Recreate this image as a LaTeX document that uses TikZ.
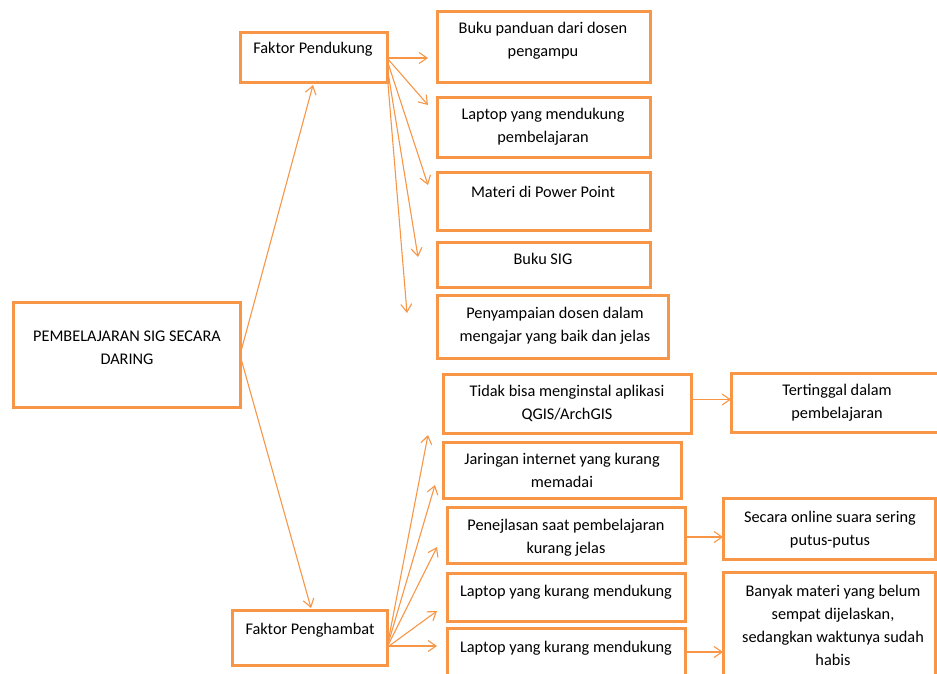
\documentclass[tikz,border=0pt]{standalone}
\usepackage{fontspec}
\setmainfont{Carlito}
\usetikzlibrary{arrows.meta,calc}
\definecolor{bor}{HTML}{F79646}
\definecolor{arrc}{HTML}{F79646}
\tikzset{
  box/.style={draw=bor, line width=3pt, rectangle, inner sep=0pt, outer sep=0pt, anchor=north west},
  txt/.style={align=center, inner sep=0pt, outer sep=0pt, anchor=north, text=black,
              font=\fontsize{16.3}{23}\selectfont},
  arr/.style={draw=arrc, line width=1.1pt, -{Straight Barb[length=8pt,width=11pt]}}
}
\newcommand\mybx[5]{\node[box, minimum width={#4-#2}, minimum height={#5-#3}] (#1) at (#2,#3) {};}
\newcommand\mytx[4]{\node[txt] (#1) at (#2,{#3-16.1}) {\strut #4};}
\begin{document}
\begin{tikzpicture}[x=1pt,y=-1pt]
\useasboundingbox (0,0) rectangle (937,673);
\begin{scope}
\clip (0,0) rectangle (937,673);
% boxes
\mybx{main}{13}{302}{240}{407}
\mybx{fp}{240}{32}{387}{82}
\mybx{b1}{437}{11}{650}{82}
\mybx{b2}{437}{97}{650}{157}
\mybx{b3}{437}{172}{650}{230}
\mybx{b4}{437}{242}{650}{287}
\mybx{b5}{437}{295}{668}{358}
\mybx{tb}{443}{374}{691}{433}
\mybx{tt}{731}{373}{950}{432}
\mybx{jr}{443}{442}{681}{498}
\mybx{pj}{447}{507}{685}{563}
\mybx{so}{723}{498}{935}{559}
\mybx{lk1}{447}{573}{685}{621}
\mybx{lk2}{447}{628}{685}{700}
\mybx{bm}{723}{572}{935}{700}
\mybx{fh}{232}{610}{387}{665}
% texts
\mytx{tmain}{127}{341}{PEMBELAJARAN SIG SECARA\\DARING}
\mytx{tfp}{313}{53}{Faktor Pendukung}
\mytx{tb1}{543}{33}{Buku panduan dari dosen\\pengampu}
\mytx{tb2}{543}{119}{Laptop yang mendukung\\pembelajaran}
\mytx{tb3}{543}{197}{Materi di Power Point}
\mytx{tb4}{543}{264}{Buku SIG}
\mytx{tb5}{555}{318}{Penyampaian dosen dalam\\mengajar yang baik dan jelas}
\mytx{ttb}{567}{396}{Tidak bisa menginstal aplikasi\\QGIS/ArchGIS}
\mytx{ttt}{837}{395}{Tertinggal dalam\\pembelajaran}
\mytx{tjr}{562}{464}{Jaringan internet yang kurang\\memadai}
\mytx{tpj}{566}{530}{Penejlasan saat pembelajaran\\kurang jelas}
\mytx{tso}{830}{522}{Secara online suara sering\\putus-putus}
\mytx{tlk1}{566}{596}{Laptop yang kurang mendukung}
\mytx{tlk2}{566}{652}{Laptop yang kurang mendukung}
\mytx{tbm}{833}{596}{Banyak materi yang belum\\sempat dijelaskan,\\sedangkan waktunya sudah\\habis}
\mytx{tfh}{310}{634}{Faktor Penghambat}
% free arrow ends
\coordinate (ms) at (240,355);
\coordinate (efp) at (313,85);
\coordinate (efh) at (311,608);
\coordinate (p1) at (428,58);
\coordinate (p2) at (428,105);
\coordinate (p3) at (428,185);
\coordinate (p4) at (418,257);
\coordinate (p5) at (407,313);
\coordinate (h1) at (428,435);
\coordinate (h2) at (435,485);
\coordinate (h3) at (437,547);
\coordinate (h4) at (437,611);
\coordinate (h5) at (437,646);
\coordinate (lb) at (685,652);
% arrows
\draw[arr] (main.east |- ms) -- (efp);
\draw[arr] (main.east |- ms) -- (efh);
\draw[arr] (fp.east |- p1) -- (p1);
\draw[arr] (fp.east |- p1) -- (p2);
\draw[arr] ([yshift=-3pt]fp.east) -- (p3);
\draw[arr] ([yshift=-9pt]fp.east) -- (p4);
\draw[arr] ([yshift=-15pt]fp.east) -- (p5);
\draw[arr] ([yshift=-10pt]fh.east) -- (h1);
\draw[arr] ([yshift=-10pt]fh.east) -- (h2);
\draw[arr] ([yshift=-10pt]fh.east) -- (h3);
\draw[arr] ([yshift=-10pt]fh.east) -- (h4);
\draw[arr] (fh.east |- h5) -- (h5);
\draw[arr] ([yshift=4pt]tb.east) -- ([yshift=4pt]tb.east -| tt.west);
\draw[arr] ([yshift=-2pt]pj.east) -- ([yshift=-2pt]pj.east -| so.west);
\draw[arr] (lk2.east |- lb) -- (bm.west |- lb);
\end{scope}
\end{tikzpicture}
\end{document}
